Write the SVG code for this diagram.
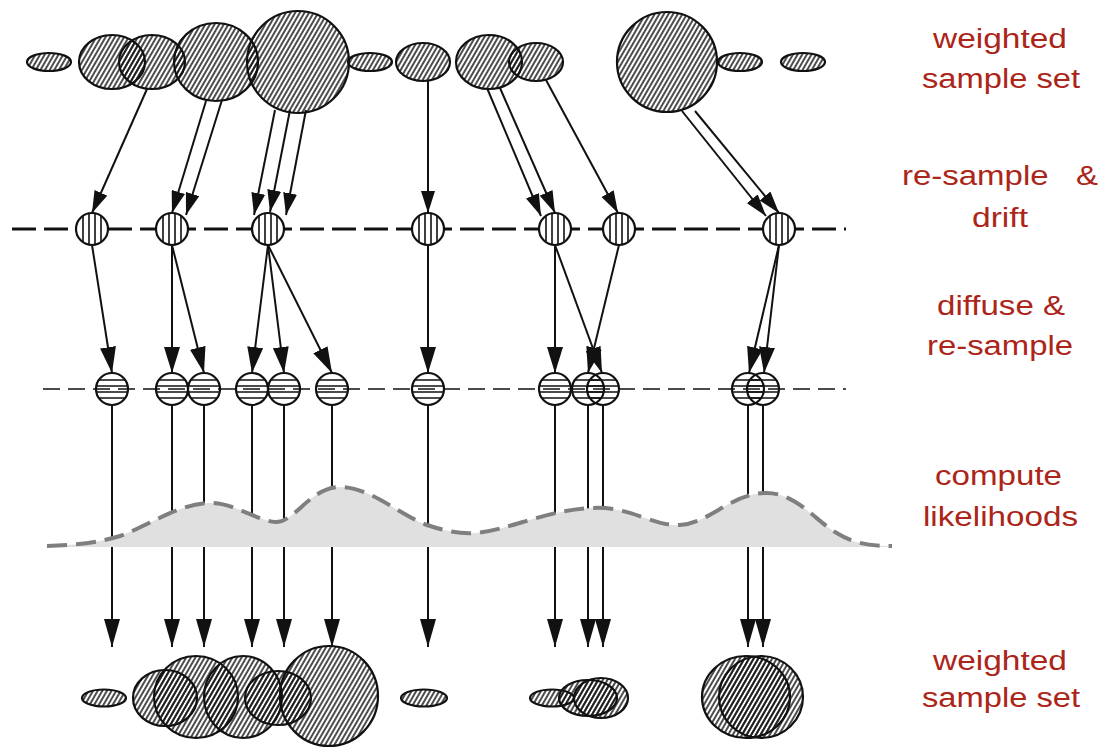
<svg xmlns="http://www.w3.org/2000/svg" xmlns:xlink="http://www.w3.org/1999/xlink" width="1109" height="748" viewBox="0 0 1109 748">
  <style>
    .sample { fill: url(#hatch); stroke: #111; stroke-width: 2.2; }
    .row { fill: none; stroke: #111; }
    .arrow { fill: none; stroke: #111; stroke-width: 2; }
    .a1 { marker-end: url(#hA); }
    .a2 { marker-end: url(#hB); }
    .a3 { marker-end: url(#hC); }
    .label { font-family: "Liberation Sans", Arial, Helvetica, sans-serif; font-size: 27px; fill: #ac2519; }
  </style>
  <defs>
    <!-- diagonal hatching for weighted samples -->
    <pattern id="hatch" patternUnits="userSpaceOnUse" width="4" height="4" patternTransform="rotate(30)">
      <line x1="2" y1="-1" x2="2" y2="5" stroke="#111" stroke-width="1.5"/>
    </pattern>
    <marker id="hA" viewBox="0 0 22 14" refX="22" refY="7" markerWidth="22" markerHeight="14" markerUnits="userSpaceOnUse" orient="auto">
      <path d="M0,0 L22,7 L0,14 Z" fill="#111"/>
    </marker>
    <marker id="hB" viewBox="0 0 26 16" refX="26" refY="8" markerWidth="26" markerHeight="16" markerUnits="userSpaceOnUse" orient="auto">
      <path d="M0,0 L26,8 L0,16 Z" fill="#111"/>
    </marker>
    <marker id="hC" viewBox="0 0 28 16" refX="28" refY="8" markerWidth="28" markerHeight="16" markerUnits="userSpaceOnUse" orient="auto">
      <path d="M0,0 L28,8 L0,16 Z" fill="#111"/>
    </marker>
    <!-- drifted sample: vertical stripes -->
    <g id="vmark">
      <circle r="16" fill="#fff"/>
      <path d="M-9,-13.2 V13.2 M-3,-15.7 V15.7 M3,-15.7 V15.7 M9,-13.2 V13.2" stroke="#111" stroke-width="1.6"/>
      <circle r="16" fill="none" stroke="#111" stroke-width="2.2"/>
    </g>
    <!-- diffused sample: horizontal stripes -->
    <g id="hmark">
      <path d="M-13.2,-9 H13.2 M-15.7,-3 H15.7 M-15.7,3 H15.7 M-13.2,9 H13.2" stroke="#111" stroke-width="1.6"/>
      <circle r="16" fill="none" stroke="#111" stroke-width="2.2"/>
    </g>
  </defs>

  <rect width="1109" height="748" fill="#fff"/>

  <!-- stage axes -->
  <g id="axes">
    <line class="row" x1="12" y1="229" x2="846" y2="229" stroke-width="3" stroke-dasharray="24 8"/>
    <line class="row" x1="43" y1="389" x2="846" y2="389" stroke-width="1.6" stroke-dasharray="17 8"/>
  </g>

  <g id="connectors">
    <!-- weighted set -> re-sample & drift -->
    <line class="arrow a1" x1="147" y1="89" x2="92" y2="213"/>
    <line class="arrow a1" x1="206" y1="101" x2="172" y2="213"/>
    <line class="arrow a1" x1="222" y1="100" x2="186" y2="215"/>
    <line class="arrow a1" x1="275" y1="110" x2="254" y2="215"/>
    <line class="arrow a1" x1="290" y1="110" x2="270" y2="212"/>
    <line class="arrow a1" x1="306" y1="110" x2="286" y2="215"/>
    <line class="arrow a1" x1="428" y1="81" x2="428" y2="213"/>
    <line class="arrow a1" x1="487" y1="88" x2="541" y2="216"/>
    <line class="arrow a1" x1="500" y1="88" x2="555" y2="213"/>
    <line class="arrow a1" x1="546" y1="80" x2="618" y2="213"/>
    <line class="arrow a1" x1="682" y1="111" x2="766" y2="216"/>
    <line class="arrow a1" x1="695" y1="111" x2="779" y2="213"/>
    <!-- drift -> diffuse -->
    <line class="arrow a2" x1="92" y1="245" x2="112" y2="373"/>
    <line class="arrow a2" x1="172" y1="245" x2="172" y2="373"/>
    <line class="arrow a2" x1="172" y1="245" x2="204" y2="373"/>
    <line class="arrow a2" x1="268" y1="245" x2="252" y2="373"/>
    <line class="arrow a2" x1="268" y1="245" x2="284" y2="373"/>
    <line class="arrow a2" x1="268" y1="245" x2="332" y2="373"/>
    <line class="arrow a2" x1="428" y1="245" x2="428" y2="373"/>
    <line class="arrow a2" x1="555" y1="245" x2="555" y2="373"/>
    <line class="arrow a2" x1="555" y1="245" x2="602" y2="373"/>
    <line class="arrow a2" x1="619" y1="245" x2="588" y2="373"/>
    <line class="arrow a2" x1="779" y1="245" x2="749" y2="373"/>
    <line class="arrow a2" x1="779" y1="245" x2="764" y2="373"/>
    <!-- diffuse -> new weighted set -->
    <line class="arrow a3" x1="112" y1="405" x2="112" y2="647"/>
    <line class="arrow a3" x1="172" y1="405" x2="172" y2="647"/>
    <line class="arrow a3" x1="204" y1="405" x2="204" y2="647"/>
    <line class="arrow a3" x1="252" y1="405" x2="252" y2="647"/>
    <line class="arrow a3" x1="284" y1="405" x2="284" y2="647"/>
    <line class="arrow a3" x1="332" y1="405" x2="332" y2="647"/>
    <line class="arrow a3" x1="428" y1="405" x2="428" y2="647"/>
    <line class="arrow a3" x1="555" y1="405" x2="555" y2="647"/>
    <line class="arrow a3" x1="588" y1="405" x2="588" y2="647"/>
    <line class="arrow a3" x1="603" y1="405" x2="603" y2="647"/>
    <line class="arrow a3" x1="748" y1="405" x2="748" y2="647"/>
    <line class="arrow a3" x1="763" y1="405" x2="763" y2="647"/>
  </g>

  <!-- observation likelihood -->
  <g id="likelihood">
    <path d="M47,546 C80,545 100,542 120,536 C150,525 180,503 210,503 C235,503 255,520 275,522 C295,523 310,487 340,487 C370,487 400,515 427,525 C445,531 460,534 475,533 C510,530 545,510 593,508 C630,506 655,527 680,525 C710,523 730,494 765,493 C795,492 815,520 835,532 C850,541 862,546 892,546 L892,547 L47,547 Z" fill="#e0e0e0"/>
    <path d="M47,546 C80,545 100,542 120,536 C150,525 180,503 210,503 C235,503 255,520 275,522 C295,523 310,487 340,487 C370,487 400,515 427,525 C445,531 460,534 475,533 C510,530 545,510 593,508 C630,506 655,527 680,525 C710,523 730,494 765,493 C795,492 815,520 835,532 C850,541 862,546 892,546" fill="none" stroke="#7f7f7f" stroke-width="4" stroke-dasharray="20 9"/>
  </g>

  <!-- weighted sample set (top) -->
  <g id="set-top">
    <ellipse id="s1" class="sample" cx="49" cy="62" rx="22" ry="9"/>
    <ellipse id="s2" class="sample" cx="112" cy="62" rx="33" ry="27"/>
    <ellipse id="s3" class="sample" cx="152" cy="62" rx="33" ry="27"/>
    <ellipse id="s4" class="sample" cx="216" cy="62" rx="42" ry="39"/>
    <ellipse id="s5" class="sample" cx="298" cy="62" rx="51" ry="51"/>
    <ellipse id="s6" class="sample" cx="370" cy="62" rx="22" ry="9"/>
    <ellipse id="s7" class="sample" cx="423" cy="62" rx="27" ry="19"/>
    <ellipse id="s8" class="sample" cx="489" cy="62" rx="33" ry="27"/>
    <ellipse id="s9" class="sample" cx="536" cy="62" rx="27" ry="19"/>
    <ellipse id="s10" class="sample" cx="667" cy="62" rx="50" ry="50"/>
    <ellipse id="s11" class="sample" cx="740" cy="62" rx="22" ry="9"/>
    <ellipse id="s12" class="sample" cx="803" cy="62" rx="22" ry="9"/>
  </g>

  <!-- re-sampled and drifted -->
  <g id="set-drift">
    <g id="d1"><use xlink:href="#vmark" x="92" y="229"/></g>
    <g id="d2"><use xlink:href="#vmark" x="172" y="229"/></g>
    <g id="d3"><use xlink:href="#vmark" x="268" y="229"/></g>
    <g id="d4"><use xlink:href="#vmark" x="428" y="229"/></g>
    <g id="d5"><use xlink:href="#vmark" x="555" y="229"/></g>
    <g id="d6"><use xlink:href="#vmark" x="619" y="229"/></g>
    <g id="d7"><use xlink:href="#vmark" x="779" y="229"/></g>
  </g>

  <!-- diffused -->
  <g id="set-diffuse">
    <g id="f1"><use xlink:href="#hmark" x="112" y="389"/></g>
    <g id="f2"><use xlink:href="#hmark" x="172" y="389"/></g>
    <g id="f3"><use xlink:href="#hmark" x="204" y="389"/></g>
    <g id="f4"><use xlink:href="#hmark" x="252" y="389"/></g>
    <g id="f5"><use xlink:href="#hmark" x="284" y="389"/></g>
    <g id="f6"><use xlink:href="#hmark" x="332" y="389"/></g>
    <g id="f7"><use xlink:href="#hmark" x="428" y="389"/></g>
    <g id="f8"><use xlink:href="#hmark" x="555" y="389"/></g>
    <g id="f9"><use xlink:href="#hmark" x="588" y="389"/></g>
    <g id="f10"><use xlink:href="#hmark" x="603" y="389"/></g>
    <g id="f11"><use xlink:href="#hmark" x="748" y="389"/></g>
    <g id="f12"><use xlink:href="#hmark" x="763" y="389"/></g>
  </g>

  <!-- weighted sample set (bottom) -->
  <g id="set-bottom">
    <ellipse id="w1" class="sample" cx="104" cy="698" rx="22" ry="8.5"/>
    <ellipse id="w2" class="sample" cx="165" cy="698" rx="32" ry="28"/>
    <ellipse id="w3" class="sample" cx="196" cy="697" rx="42" ry="41"/>
    <ellipse id="w4" class="sample" cx="243" cy="697" rx="39" ry="41"/>
    <ellipse id="w5" class="sample" cx="278" cy="698" rx="33" ry="27"/>
    <ellipse id="w6" class="sample" cx="329" cy="696" rx="49" ry="50"/>
    <ellipse id="w7" class="sample" cx="424" cy="698" rx="23" ry="8.5"/>
    <ellipse id="w8" class="sample" cx="552" cy="698" rx="22" ry="8.5"/>
    <ellipse id="w9" class="sample" cx="588" cy="698" rx="29" ry="18"/>
    <ellipse id="w10" class="sample" cx="601" cy="698" rx="27" ry="20"/>
    <ellipse id="w11" class="sample" cx="746" cy="697" rx="44" ry="41"/>
    <ellipse id="w12" class="sample" cx="761" cy="697" rx="42" ry="41"/>
  </g>

  <!-- stage labels -->
  <g id="labels" class="label">
    <text x="933" y="48" textLength="134" lengthAdjust="spacingAndGlyphs">weighted</text>
    <text x="922" y="88" textLength="158" lengthAdjust="spacingAndGlyphs">sample set</text>
    <text x="902" y="185" textLength="196" lengthAdjust="spacingAndGlyphs" xml:space="preserve" style="white-space:pre">re-sample   &amp;</text>
    <text x="972" y="227" textLength="56" lengthAdjust="spacingAndGlyphs">drift</text>
    <text x="937" y="315" textLength="128" lengthAdjust="spacingAndGlyphs">diffuse &amp;</text>
    <text x="927" y="355" textLength="146" lengthAdjust="spacingAndGlyphs">re-sample</text>
    <text x="935" y="485" textLength="127" lengthAdjust="spacingAndGlyphs">compute</text>
    <text x="923" y="526" textLength="155" lengthAdjust="spacingAndGlyphs">likelihoods</text>
    <text x="933" y="670" textLength="134" lengthAdjust="spacingAndGlyphs">weighted</text>
    <text x="922" y="707" textLength="158" lengthAdjust="spacingAndGlyphs">sample set</text>
  </g>
</svg>
